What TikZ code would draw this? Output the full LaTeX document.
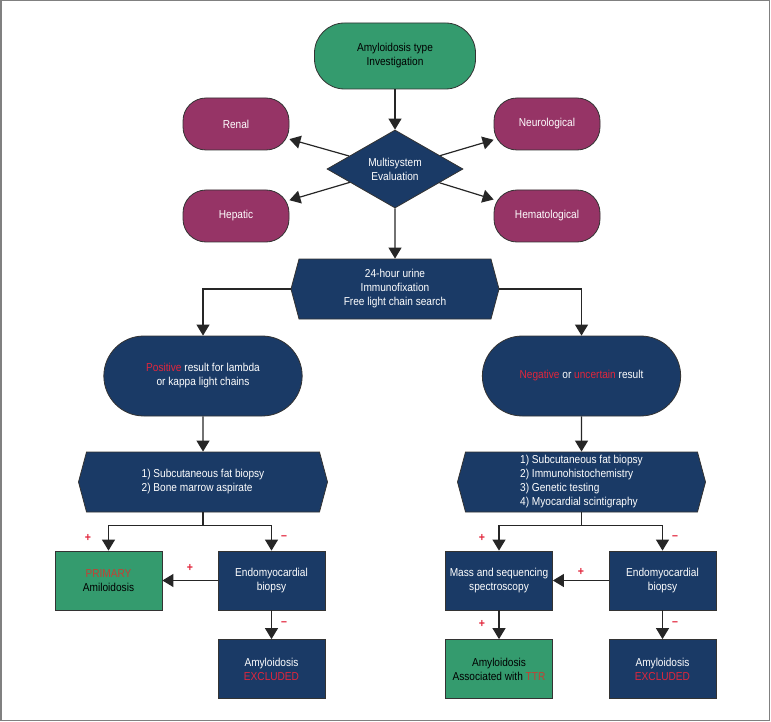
\documentclass[tikz,border=0pt]{standalone}
\usepackage{fontspec}
\setmainfont{Liberation Sans}[FakeStretch=0.88]
\usetikzlibrary{arrows.meta,shapes.geometric,shapes.symbols,shapes.misc}

\definecolor{boxgreen}{RGB}{52,155,110}
\definecolor{boxnavy}{RGB}{26,58,102}
\definecolor{boxplum}{RGB}{150,52,102}
\definecolor{alertred}{RGB}{226,38,60}
\definecolor{alertbrown}{RGB}{196,64,52}
\definecolor{framegray}{RGB}{128,128,128}

\begin{document}
\begin{tikzpicture}
  [x=1pt, y=-1pt, font=\fontsize{11.5}{14}\selectfont,
   arr/.style={draw=black!85, line width=1.2pt, -{Triangle[length=11pt,width=13pt]}},
   start/.style={rounded corners=30pt, fill=boxgreen, draw=black!80, thick, align=center,
                 minimum width=161pt, minimum height=66pt},
   organ/.style={rounded corners=23pt, fill=boxplum, draw=black!80, thick, text=white,
                 minimum width=106pt, minimum height=52pt},
   multi/.style={diamond, fill=boxnavy, draw=black!80, thick, text=white, align=center,
                 inner sep=0pt, minimum width=136pt, minimum height=78pt},
   hexa/.style={signal, signal to=east and west, signal pointer angle=150, fill=boxnavy,
                draw=black!80, thick, text=white, inner sep=0pt, minimum height=60pt},
   result/.style={rounded rectangle, fill=boxnavy, draw=black!80, thick, text=white, align=center,
                  minimum width=205pt, minimum height=80pt},
   box/.style={rectangle, fill=boxnavy, draw=black!80, thick, text=white, align=center,
               minimum width=107pt, minimum height=59pt},
   final/.style={box, fill=boxgreen, text=black},
   sign/.style={text=alertred, font=\fontsize{12}{12}\selectfont\bfseries, inner sep=0pt}]

  \useasboundingbox (0,0) rectangle (771,722);
  \draw[framegray, line width=1.5pt] (0.75,0.75) rectangle (769.5,720.5);

  % top of the chart
  \node[start] (type) at (395,56) {Amyloidosis type\\Investigation};
  \node[multi] (eval) at (395,169) {Multisystem\\Evaluation};
  \node[organ] (renal) at (236,124) {Renal};
  \node[organ] (neuro) at (547,124) {Neurological};
  \node[organ] (hepatic) at (236,216) {Hepatic};
  \node[organ] (hemato) at (547,216) {Hematological};
  \node[hexa, minimum width=208pt, align=center] (urine) at (395,289)
    {24-hour urine\\Immunofixation\\Free light chain search};

  % two branches
  \node[result] (pos) at (203,376)
    {{\color{alertred}Positive} result for lambda\\or kappa light chains};
  \node[result] (neg) at (581.5,376)
    {{\color{alertred}Negative} or {\color{alertred}uncertain} result};
  \node[hexa, minimum width=249pt, align=left] (testsL) at (203,482)
    {1) Subcutaneous fat biopsy\\2) Bone marrow aspirate};
  \node[hexa, minimum width=248pt, align=left] (testsR) at (581.5,482)
    {1) Subcutaneous fat biopsy\\2) Immunohistochemistry\\3) Genetic testing\\4) Myocardial scintigraphy};

  \node[final] (primary) at (108.5,580.5) {{\color{alertbrown}PRIMARY}\\Amiloidosis};
  \node[box] (endoL) at (271.5,580.5) {Endomyocardial\\biopsy};
  \node[box] (exclL) at (271.5,669) {Amyloidosis\\{\color{alertred}EXCLUDED}};
  \node[box] (mass) at (499,580.5) {Mass and sequencing\\spectroscopy};
  \node[box] (endoR) at (662.5,580.5) {Endomyocardial\\biopsy};
  \node[final] (ttr) at (499,669) {Amyloidosis\\Associated with {\color{alertbrown}TTR}};
  \node[box] (exclR) at (662.5,669) {Amyloidosis\\{\color{alertred}EXCLUDED}};

  \foreach \from/\to in {type/eval, eval/renal, eval/neuro, eval/hepatic, eval/hemato,
                         eval/urine, pos/testsL, neg/testsR, endoL/primary, endoL/exclL,
                         endoR/mass, endoR/exclR, mass/ttr}
    \draw[arr] (\from) -- (\to);

  \draw[arr] (urine.west) -| (pos);
  \draw[arr] (urine.east) -| (neg);
  \draw[arr] (testsL.south) -- ++(0,13) -| (primary);
  \draw[arr] (testsL.south) -- ++(0,13) -| (endoL);
  \draw[arr] (testsR.south) -- ++(0,13) -| (mass);
  \draw[arr] (testsR.south) -- ++(0,13) -| (endoR);

  \foreach \name/\x/\y/\sym in {s1/88/538/+, s2/284/538/--, s3/190/568/+, s4/284/624/--,
                                s5/482/538/+, s6/675/538/--, s7/581/572/+, s8/482/624/+,
                                s9/675/624/--}
    \node[sign] (\name) at (\x,\y) {\sym};
\end{tikzpicture}
\end{document}
